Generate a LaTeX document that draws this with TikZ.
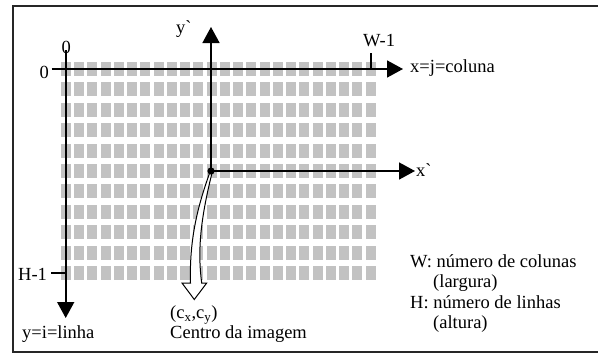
\documentclass[tikz,border=0pt]{standalone}
\usepackage{fontspec}
\setmainfont{Liberation Serif}
\usetikzlibrary{arrows.meta}
\definecolor{gridgray}{RGB}{194,194,194}
\begin{document}
\begin{tikzpicture}[x=1pt,y=-1pt,
  axis/.style={line width=1.6pt,-{Triangle[length=16pt,width=17pt]}},
  tickline/.style={line width=1.6pt},
  lbl/.style={font=\fontsize{18.5}{22}\selectfont,inner sep=0pt,anchor=base west},
  cell/.style={fill=gridgray}]
\useasboundingbox (0,0) rectangle (598,354);
% frame
\draw[line width=1.8pt,black!85] (599,6) -- (13,6) -- (13,352) -- (599,352);
% pixel grid
\foreach \i in {0,...,10}
  \foreach \j in {0,...,23}
    \fill[cell] ({66+13.24*\j-5},{69+20.4*\i-7}) rectangle ++(10,14);
% image axes
\coordinate (xs) at (51.5,69);
\coordinate (xe) at (403,69);
\coordinate (ys) at (65.7,50);
\coordinate (ye) at (65.7,318);
\draw[axis] (xs) -- (xe);
\draw[axis] (ys) -- (ye);
% ticks
\coordinate (ha) at (51,273);
\coordinate (hb) at (65.7,273);
\draw[tickline] (ha) -- (hb);
\coordinate (wa) at (370.7,53);
\coordinate (wb) at (370.7,69);
\draw[tickline] (wa) -- (wb);
% centre axes
\coordinate (C) at (211,171);
\coordinate (yp) at (211,27);
\coordinate (xp) at (415,171);
\draw[axis] (C) -- (yp);
\draw[axis] (C) -- (xp);
% hollow curved arrow
\draw[line width=1pt,fill=white]
  (210,172) .. controls (200,200) and (189,235) .. (190.5,283)
  -- (182,283) -- (194.3,299.5) -- (206.7,283) -- (201.7,283)
  .. controls (198,255) and (199,225) .. (212,173) -- cycle;
\fill (C) circle (3.6);
% labels
\node[lbl] (z0t) at (61.5,53) {0};
\node[lbl] (z0l) at (39.5,78) {0};
\node[lbl] (w1) at (363,46.7) {W-1};
\node[lbl] (xlab) at (410,72) {x=j=coluna};
\node[lbl] (yplab) at (176,33) {y\textasciigrave};
\node[lbl] (xplab) at (416,176) {x\textasciigrave};
\node[lbl] (h1) at (18,280) {H-1};
\node[lbl] (ylab) at (22,338) {y=i=linha};
\node[lbl] (clab) at (170,318.5) {(c\textsubscript{x},c\textsubscript{y})};
\node[lbl] (cent) at (170,338) {Centro da imagem};
\node[lbl] (wlab) at (410,267) {W: número de colunas};
\node[lbl] (wlarg) at (433,287.5) {(largura)};
\node[lbl] (hlab) at (410,308) {H: número de linhas};
\node[lbl] (halt) at (433,328.5) {(altura)};
\end{tikzpicture}
\end{document}
